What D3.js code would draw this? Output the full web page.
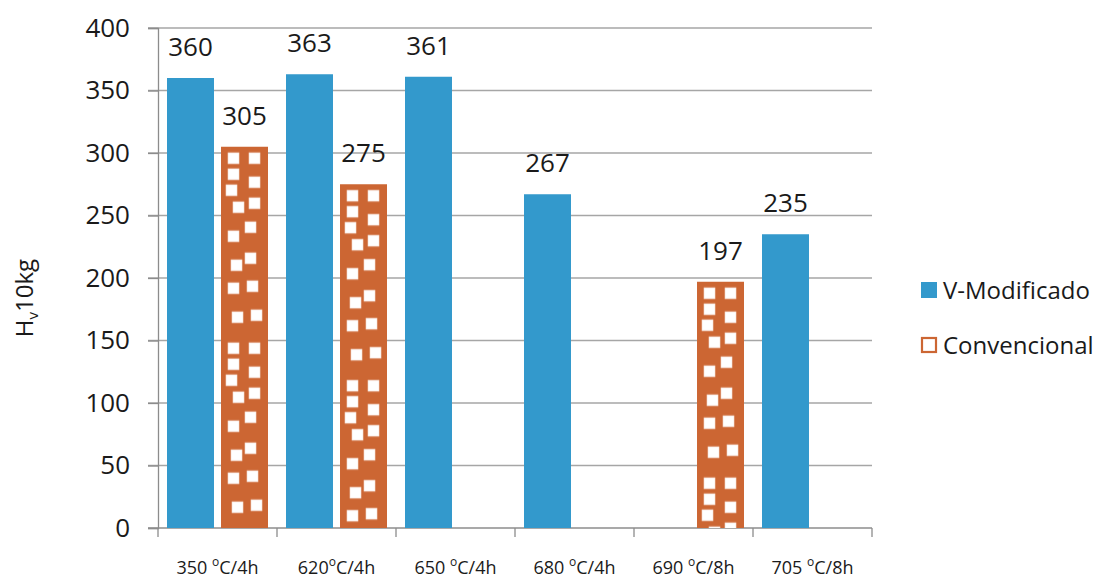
<!DOCTYPE html>
<html>
<head>
<meta charset="utf-8">
<script src="https://cdn.jsdelivr.net/npm/d3@7"></script>
<style>
  html, body { margin: 0; padding: 0; background: #fff; }
  svg { display: block; font-family: "Open Sans", "Noto Sans", sans-serif; }
</style>
</head>
<body>
<svg id="chart" width="1110" height="580"></svg>
<script>
// Treatment conditions (x categories)
const categories = ["350 °C/4h", "620°C/4h", "650 °C/4h", "680 °C/4h", "690 °C/8h", "705 °C/8h"];
// Label parts: number, separator, unit after the superscript "o"
const catNumber = ["350", "620", "650", "680", "690", "705"];
const catSpace  = [" ", "", " ", " ", " ", " "];
const catUnit   = ["C/4h", "C/4h", "C/4h", "C/4h", "C/8h", "C/8h"];

// Series
const seriesNames = ["V-Modificado", "Convencional"];
const vModificado  = [360, 363, 361, 267, null, 235];
const convencional = [305, 275, null, null, 197, null];

// Y axis ticks
const yTicks = [0, 50, 100, 150, 200, 250, 300, 350, 400];

const colors = { "V-Modificado": "#3399cc", "Convencional": "#cc6633" };

// Layout
const plot = { left: 158, right: 872, top: 28, bottom: 528 };

const svg = d3.select("#chart");

const x = d3.scaleBand().domain(categories).range([plot.left, plot.right]).paddingInner(0).paddingOuter(0);
const xSub = d3.scaleBand().domain(seriesNames).range([9, x.bandwidth() - 9]).paddingInner(0.13).paddingOuter(0);
const y = d3.scaleLinear().domain([0, 400]).range([plot.bottom, plot.top]);

// Horizontal grid lines
svg.append("g")
  .selectAll("line")
  .data(yTicks.filter(t => t > 0))
  .join("line")
  .attr("x1", plot.left - 10)
  .attr("x2", plot.right)
  .attr("y1", d => y(d))
  .attr("y2", d => y(d))
  .attr("stroke", "#a6a6a6")
  .attr("stroke-width", 1.3);

// Y axis
const yAxis = svg.append("g")
  .attr("transform", `translate(${plot.left},0)`)
  .call(d3.axisLeft(y).tickValues(yTicks).tickSize(10).tickPadding(18));
yAxis.select(".domain").attr("stroke", "#8c8c8c").attr("stroke-width", 1.3);
yAxis.selectAll(".tick line").attr("stroke", "#8c8c8c").attr("stroke-width", 1.3);
yAxis.selectAll(".tick text")
  .attr("font-size", 26)
  .attr("fill", "#1a1a1a")
  .attr("font-family", "Open Sans");

// X axis: ticks at category boundaries
svg.append("line")
  .attr("x1", plot.left - 10).attr("x2", plot.right)
  .attr("y1", plot.bottom).attr("y2", plot.bottom)
  .attr("stroke", "#8c8c8c").attr("stroke-width", 1.3);
const boundaries = categories.map(c => x(c)).concat([x(categories[categories.length - 1]) + x.bandwidth()]);
svg.append("g")
  .selectAll("line")
  .data(boundaries)
  .join("line")
  .attr("x1", d => d).attr("x2", d => d)
  .attr("y1", plot.bottom).attr("y2", plot.bottom + 9)
  .attr("stroke", "#8c8c8c").attr("stroke-width", 1.3);

// Category labels with superscript degree mark
const catLabels = svg.append("g")
  .selectAll("text")
  .data(categories)
  .join("text")
  .attr("x", d => x(d) + x.bandwidth() / 2)
  .attr("y", 574)
  .attr("text-anchor", "middle")
  .attr("font-size", 18)
  .attr("fill", "#1a1a1a");
catLabels.append("tspan").text((d, i) => catNumber[i] + catSpace[i]);
catLabels.append("tspan").attr("font-size", 12).attr("dy", -8).text("o");
catLabels.append("tspan").attr("dy", 8).text((d, i) => catUnit[i]);

// Confetti pattern for the "Convencional" bars: white squares on orange
const confetti = [
  [7, 6], [28, 6], [7, 22], [28, 30], [5, 38], [12, 55], [28, 51], [24, 75],
  [7, 84], [10, 113], [24, 106], [7, 136], [26, 134], [11, 165], [30, 163]
];
const defs = svg.append("defs");
const bw = xSub.bandwidth();

// Pattern coordinates are in the user space of the bar's group
function addPattern(id, x0, y0) {
  const p = defs.append("pattern")
    .attr("id", id)
    .attr("patternUnits", "userSpaceOnUse")
    .attr("x", x0).attr("y", y0)
    .attr("width", bw).attr("height", 190);
  p.append("rect").attr("width", bw).attr("height", 190).attr("fill", colors["Convencional"]);
  p.selectAll("rect.sq")
    .data(confetti)
    .join("rect")
    .attr("class", "sq")
    .attr("x", d => d[0]).attr("y", d => d[1])
    .attr("width", 11).attr("height", 11)
    .attr("fill", "#ffffff")
    .attr("stroke", "#f6ddd0").attr("stroke-width", 0.6);
}

// Bars
const rows = categories.map((c, i) => ({
  cat: c,
  values: [
    { series: "V-Modificado", value: vModificado[i] },
    { series: "Convencional", value: convencional[i] }
  ].filter(v => v.value !== null)
}));

const groups = svg.append("g")
  .selectAll("g")
  .data(rows)
  .join("g")
  .attr("transform", d => `translate(${x(d.cat)},0)`);

groups.each(function (row, ci) {
  const g = d3.select(this);
  row.values.forEach((v) => {
    const bx = xSub(v.series);
    let fill = colors[v.series];
    if (v.series === "Convencional") {
      const id = "confetti-" + ci;
      addPattern(id, bx, y(v.value));
      fill = `url(#${id})`;
    }
    g.append("rect")
      .attr("x", bx)
      .attr("y", y(v.value))
      .attr("width", bw)
      .attr("height", y(0) - y(v.value))
      .attr("fill", fill);
    g.append("text")
      .attr("x", bx + bw / 2)
      .attr("y", y(v.value) - 22)
      .attr("text-anchor", "middle")
      .attr("font-size", 26)
      .attr("fill", "#1a1a1a")
      .text(v.value);
  });
});

// Y axis title: H with subscript v, then 10kg
const yTitle = svg.append("text")
  .attr("transform", "translate(33,298) rotate(-90)")
  .attr("text-anchor", "middle")
  .attr("font-size", 24)
  .attr("fill", "#1a1a1a");
yTitle.append("tspan").text("H");
yTitle.append("tspan").attr("font-size", 15).attr("dy", 5).text("v");
yTitle.append("tspan").attr("dy", -5).text("10kg");

// Legend
const legend = svg.append("g")
  .selectAll("g")
  .data(seriesNames)
  .join("g")
  .attr("transform", (d, i) => `translate(921,${282 + i * 55})`);
legend.append("rect")
  .attr("x", d => d === "Convencional" ? 1 : 0)
  .attr("y", d => d === "Convencional" ? 1 : 0)
  .attr("width", d => d === "Convencional" ? 14 : 16)
  .attr("height", d => d === "Convencional" ? 14 : 16)
  .attr("fill", d => d === "Convencional" ? "#ffffff" : colors[d])
  .attr("stroke", d => d === "Convencional" ? colors[d] : "none")
  .attr("stroke-width", 2.2);
legend.append("text")
  .attr("x", 22)
  .attr("y", 17)
  .attr("font-size", 24)
  .attr("fill", "#1a1a1a")
  .text(d => d);
</script>
</body>
</html>
